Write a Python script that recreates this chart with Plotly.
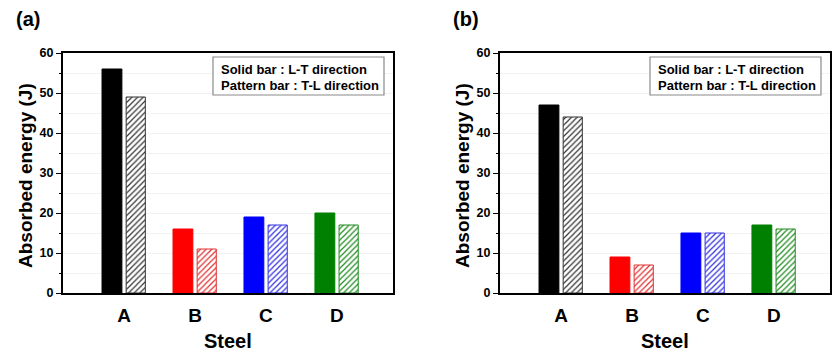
import plotly.graph_objects as go

categories = ["A", "B", "C", "D"]
colors = ["#000000", "#ff0000", "#0000ff", "#008000"]
hatch_colors = ["#333333", "#e03030", "#3030e0", "#208a20"]
solid_a = [56, 16, 19, 20]
pattern_a = [49, 11, 17, 17]
solid_b = [47, 9, 15, 17]
pattern_b = [44, 7, 15, 16]
legend_lines = ["Solid bar : L-T direction", "Pattern bar : T-L direction"]
panel_labels = ["(a)", "(b)"]
x_title = "Steel"
y_title = "Absorbed energy (J)"

W, H = 840, 353
xpos = list(range(len(categories)))
fig = go.Figure()

FONT = "Liberation Sans, Arial, sans-serif"

def add_panel(solid, pattern, xa, ya):
    fig.add_trace(go.Bar(
        x=xpos, y=solid, width=0.28, offset=-0.31,
        marker=dict(color=colors, line=dict(color=colors, width=1)),
        xaxis=xa, yaxis=ya, showlegend=False))
    fig.add_trace(go.Bar(
        x=xpos, y=pattern, width=0.27, offset=0.03,
        marker=dict(color="white", line=dict(color=hatch_colors, width=1),
                    pattern=dict(shape="/", fgcolor=hatch_colors, bgcolor="white",
                                 size=4, solidity=0.3, fillmode="replace")),
        xaxis=xa, yaxis=ya, showlegend=False))

add_panel(solid_a, pattern_a, "x", "y")
add_panel(solid_b, pattern_b, "x2", "y2")

ydom = [1 - 293 / H, 1 - 53 / H]
xdoms = [[63 / W, 393 / W], [500 / W, 830 / W]]

def xaxis_cfg(dom, anchor):
    return dict(domain=dom, anchor=anchor, range=[-0.86, 3.79],
                tickvals=xpos, ticktext=categories,
                tickfont=dict(family=FONT, size=19, color="black", weight="bold"),
                showline=True, linewidth=2, linecolor="black", mirror=True,
                showgrid=False, zeroline=False, ticks="", ticklabelstandoff=4)

def yaxis_cfg(anchor):
    return dict(domain=ydom, anchor=anchor, range=[0, 60], dtick=10,
                tickfont=dict(family=FONT, size=12.5, color="black", weight="bold"),
                showline=True, linewidth=2, linecolor="black", mirror=True,
                ticks="outside", ticklen=5, tickwidth=1, tickcolor="black",
                minor=dict(dtick=5, ticks="outside", ticklen=2, tickcolor="black",
                           showgrid=True, gridcolor="#f2f2f2", gridwidth=1),
                showgrid=True, gridcolor="#f2f2f2", gridwidth=1, zeroline=False)

fig.update_layout(
    width=W, height=H, margin=dict(l=0, r=0, t=0, b=0, autoexpand=False),
    paper_bgcolor="white", plot_bgcolor="white",
    barmode="overlay",
    xaxis=xaxis_cfg(xdoms[0], "y"), yaxis=yaxis_cfg("x"),
    xaxis2=xaxis_cfg(xdoms[1], "y2"), yaxis2=yaxis_cfg("x2"),
    font=dict(family=FONT, color="black"),
)

for i, (xs, ys) in enumerate([("x", "y"), ("x2", "y2")]):
    xd = xs + " domain"
    yd = ys + " domain"
    fig.add_shape(type="rect", xref=xd, yref=yd, x0=150 / 330, x1=321 / 330,
                  y0=1 - 42 / 240, y1=1 - 4 / 240,
                  line=dict(color="#8a8a8a", width=1.2), fillcolor="white", layer="above")
    for j, line in enumerate(legend_lines):
        fig.add_annotation(xref=xd, yref=yd, x=156 / 330, y=1 - (16.5 + 16 * j) / 240,
                           xanchor="left", yanchor="middle", text="<b>" + line + "</b>",
                           showarrow=False, font=dict(family=FONT, size=13, color="black"))
    dom = xdoms[i]
    xc = (dom[0] + dom[1]) / 2
    fig.add_annotation(xref="paper", yref="paper", x=xc, y=1 - 341 / H,
                       xanchor="center", yanchor="middle", text="<b>" + x_title + "</b>",
                       showarrow=False, font=dict(family=FONT, size=20, color="black"))
    fig.add_annotation(xref="paper", yref="paper", x=dom[0] - 37 / W, y=1 - 176 / H,
                       xanchor="center", yanchor="middle", text="<b>" + y_title + "</b>",
                       textangle=-90, showarrow=False,
                       font=dict(family=FONT, size=19, color="black"))
    fig.add_annotation(xref="paper", yref="paper", x=dom[0] - 49 / W, y=1 - 19 / H,
                       xanchor="left", yanchor="middle", text="<b>" + panel_labels[i] + "</b>",
                       showarrow=False, font=dict(family=FONT, size=20, color="black"))

fig.write_html("out.html")
